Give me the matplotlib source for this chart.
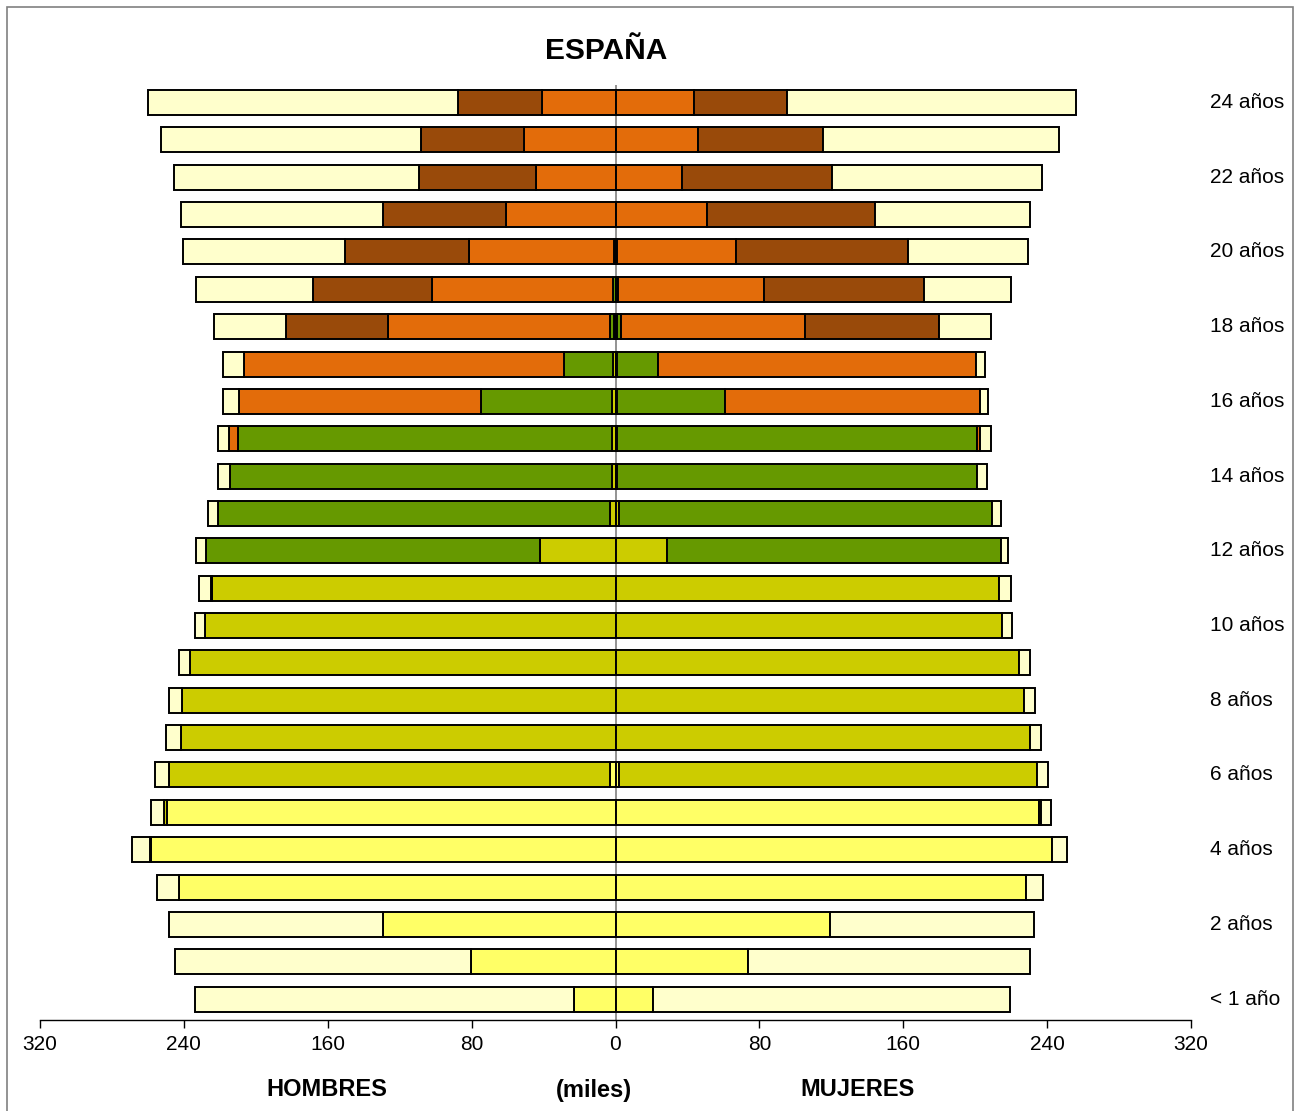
import numpy as np
import matplotlib
matplotlib.use("Agg")
import matplotlib.pyplot as plt
from matplotlib.patches import Rectangle
from matplotlib.ticker import FixedLocator

plt.rcParams['font.family'] = ['Liberation Sans', 'DejaVu Sans']

# edades 0..24
ages = np.arange(25)
age_labels = {0: "< 1 año"}
for a in range(2, 25, 2):
    age_labels[a] = f"{a} años"

# Hombres (miles) por nivel de estudio
infantil_h = [23.1, 80.6, 129.4, 242.8, 258.3, 249.4, 2.8, 0, 0, 0, 0, 0, 0, 0, 0, 0, 0, 0, 0, 0, 0, 0, 0, 0, 0]
primaria_h = [0, 0, 0, 0, 0.6, 1.7, 245.6, 241.7, 241.1, 236.7, 228.3, 224.2, 42.2, 3.0, 2.2, 2.2, 1.7, 1.5, 0.8, 0, 0, 0, 0, 0, 0]
eso_h = [0, 0, 0, 0, 0, 0, 0, 0, 0, 0, 0, 0.8, 185.6, 217.8, 212.2, 207.8, 73.3, 27.2, 2.5, 1.5, 1.0, 0, 0, 0, 0]
postobl_h = [0, 0, 0, 0, 0, 0, 0, 0, 0, 0, 0, 0, 0, 0, 0, 5.0, 134.4, 177.8, 123.3, 100.6, 80.6, 61.1, 44.4, 50.6, 40.6]
superior_h = [0, 0, 0, 0, 0, 0, 0, 0, 0, 0, 0, 0, 0, 0, 0, 0, 0, 0, 56.7, 66.1, 68.9, 68.3, 65.0, 57.8, 46.7]
noesc_h = [210.6, 164.4, 118.9, 12.2, 10.0, 7.2, 7.8, 8.3, 7.2, 6.1, 5.6, 6.7, 5.4, 5.6, 6.7, 6.1, 8.9, 11.7, 40.0, 65.0, 90.0, 112.2, 136.1, 144.4, 172.8]

# Mujeres (miles)
infantil_m = [21.1, 73.9, 119.4, 228.3, 242.8, 235.6, 1.8, 0, 0, 0, 0, 0, 0, 0, 0, 0, 0, 0, 0, 0, 0, 0, 0, 0, 0]
primaria_m = [0, 0, 0, 0, 0, 1.2, 232.8, 230.6, 227.2, 224.4, 215.0, 213.3, 28.5, 2.2, 1.1, 1.1, 1.1, 1.1, 0.8, 0, 0, 0, 0, 0, 0]
eso_m = [0, 0, 0, 0, 0, 0, 0, 0, 0, 0, 0, 0, 186.1, 207.2, 200.0, 200.0, 60.0, 22.8, 2.0, 1.5, 1.0, 0, 0, 0, 0]
postobl_m = [0, 0, 0, 0, 0, 0, 0, 0, 0, 0, 0, 0, 0, 0, 0, 1.7, 141.7, 176.7, 102.8, 81.0, 66.0, 50.6, 37.2, 46.1, 43.9]
superior_m = [0, 0, 0, 0, 0, 0, 0, 0, 0, 0, 0, 0, 0, 0, 0, 0, 0, 0, 74.4, 88.9, 95.6, 93.9, 83.3, 69.4, 51.7]
noesc_m = [198.3, 156.7, 113.3, 9.4, 8.3, 5.6, 6.1, 6.1, 6.1, 6.1, 5.6, 6.5, 3.6, 5.0, 5.6, 6.1, 4.4, 5.0, 28.9, 48.3, 66.7, 86.1, 116.7, 131.1, 160.6]

colors = ["#FFFF66", "#CCCC00", "#669900", "#E36C0A", "#994A0A", "#FFFFCC"]
hombres = [infantil_h, primaria_h, eso_h, postobl_h, superior_h, noesc_h]
mujeres = [infantil_m, primaria_m, eso_m, postobl_m, superior_m, noesc_m]

fig = plt.figure(figsize=(12.95, 11.11), dpi=100)
ax = fig.add_axes([40/1295, 91/1111, 1151/1295, 935/1111])

ax.axvline(0, color="#808080", lw=1.2, zorder=0)

left = np.zeros(25)
right = np.zeros(25)
for vh, vm, c in zip(hombres, mujeres, colors):
    vh = np.array(vh); vm = np.array(vm)
    ax.barh(ages, -vh, left=-left, height=0.67, color=c, edgecolor="black", linewidth=1.4, zorder=2)
    ax.barh(ages, vm, left=right, height=0.67, color=c, edgecolor="black", linewidth=1.4, zorder=2)
    left += vh
    right += vm

ax.set_xlim(-320, 320)
ax.set_ylim(-0.56, 24.47)
ticks = np.arange(-320, 321, 80)
ax.xaxis.set_major_locator(FixedLocator(ticks))
ax.set_xticklabels([str(abs(t)) for t in ticks], fontsize=15)
ax.tick_params(axis="x", direction="out", length=6, width=1, pad=5)
ax.set_yticks([])
for s in ["top", "right", "left"]:
    ax.spines[s].set_visible(False)
ax.spines["bottom"].set_linewidth(1)

for a, lab in age_labels.items():
    ax.text(1.0165, a, lab, transform=ax.get_yaxis_transform(), ha="left", va="center", fontsize=15)

fig.text(606/1295, 1 - 51/1111, "ESPAÑA", ha="center", va="center", fontsize=21.5, fontweight="bold")
fig.text(327/1295, 1 - 1090/1111, "HOMBRES", ha="center", va="center", fontsize=17, fontweight="bold")
fig.text(594/1295, 1 - 1090/1111, "(miles)", ha="center", va="center", fontsize=17, fontweight="bold")
fig.text(857/1295, 1 - 1090/1111, "MUJERES", ha="center", va="center", fontsize=17, fontweight="bold")

fig.patches.append(Rectangle((7/1295, -0.01), 1286/1295, 1 - 7/1111 + 0.01, transform=fig.transFigure,
                             fill=False, edgecolor="#808080", linewidth=1.2))

fig.savefig("out.png", dpi=100)
